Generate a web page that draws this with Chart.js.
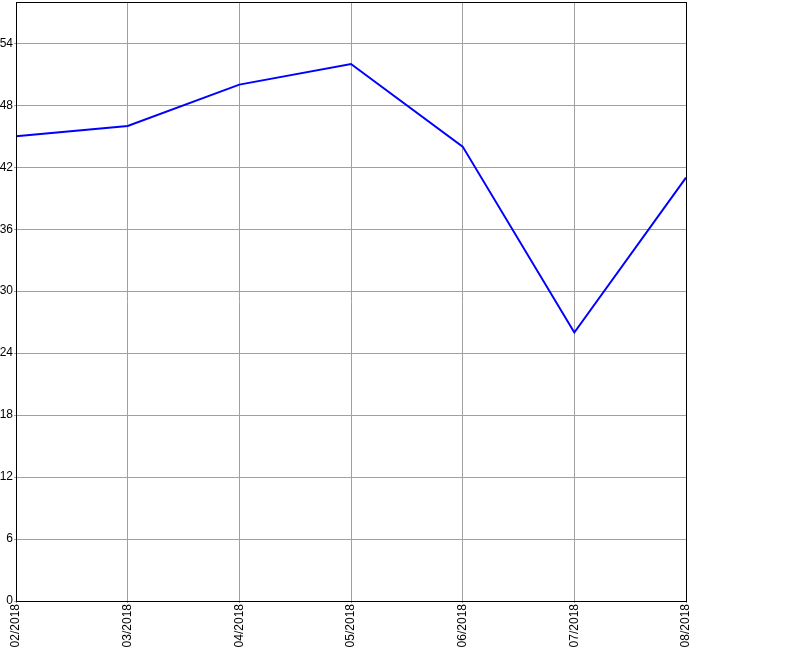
<!DOCTYPE html>
<html>
<head>
<meta charset="utf-8">
<script src="https://cdn.jsdelivr.net/npm/chart.js@4/dist/chart.umd.min.js"></script>
<style>
html,body{margin:0;padding:0;background:#fff;}
canvas{display:block;}
</style>
</head>
<body>
<canvas id="c" width="800" height="650"></canvas>
<script>
const categories = ["02/2018","03/2018","04/2018","05/2018","06/2018","07/2018","08/2018"];
const values = [45, 46, 50, 52, 44, 26, 41];
const yMin = 0, yMax = 58, yStep = 6;

const frame = {
  id: 'frame',
  afterDraw(chart) {
    const a = chart.chartArea, ctx = chart.ctx;
    ctx.save();
    ctx.strokeStyle = '#000';
    ctx.lineWidth = 1;
    ctx.strokeRect(Math.round(a.left) + 0.5, Math.round(a.top) + 0.5,
      Math.round(a.right - a.left), Math.round(a.bottom - a.top));
    ctx.restore();
  }
};

new Chart(document.getElementById('c'), {
  type: 'line',
  data: {
    labels: categories,
    datasets: [{
      data: values,
      borderColor: '#0000ff',
      borderWidth: 2,
      pointRadius: 0,
      tension: 0,
      fill: false
    }]
  },
  options: {
    responsive: false,
    animation: false,
    layout: { padding: { top: 2, right: 114, left: 0, bottom: 0 } },
    plugins: { legend: { display: false }, tooltip: { enabled: false } },
    scales: {
      x: {
        type: 'category',
        offset: false,
        grid: { color: '#a0a0a0', tickLength: 2, tickColor: '#a0a0a0' },
        border: { color: '#000', width: 1 },
        ticks: {
          color: '#000', maxRotation: 90, minRotation: 90, padding: 1,
          autoSkip: false,
          font: { family: 'Liberation Sans', size: 12 }
        },
        afterFit(scale) { scale.height = 49; scale.paddingLeft = 0; scale.paddingRight = 0; }
      },
      y: {
        min: yMin, max: yMax,
        grid: { color: '#a0a0a0', tickLength: 2, tickColor: '#a0a0a0' },
        border: { color: '#000', width: 1 },
        ticks: {
          stepSize: yStep, includeBounds: false, color: '#000', padding: 1,
          font: { family: 'Liberation Sans', size: 12 }
        },
        afterFit(scale) { scale.width = 16; scale.paddingTop = 0; scale.paddingBottom = 0; }
      }
    }
  },
  plugins: [frame]
});
</script>
</body>
</html>
